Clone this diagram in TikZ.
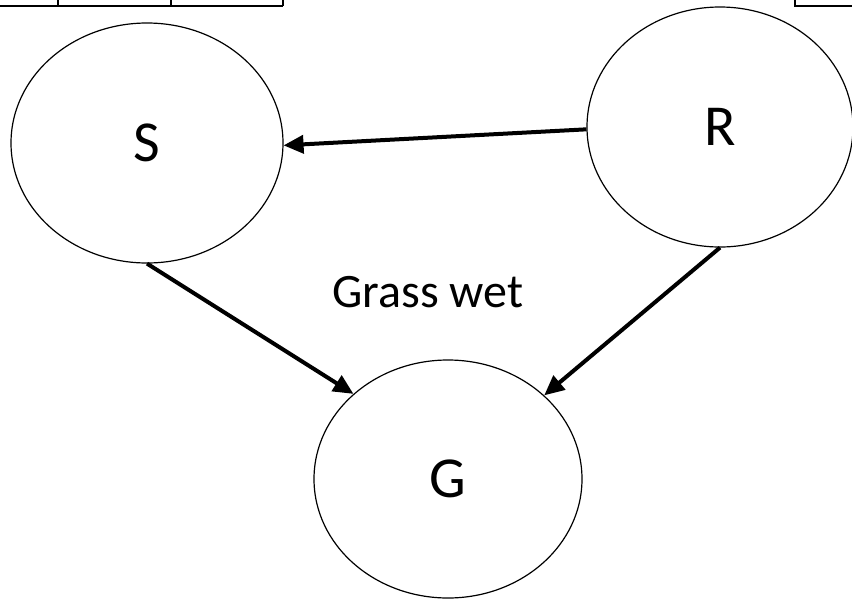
\documentclass[tikz,border=0pt]{standalone}
\usepackage{fontspec}
\setmainfont{Carlito}
\usetikzlibrary{shapes.geometric,arrows.meta}

\begin{document}
\begin{tikzpicture}[x=1pt, y=-1pt,
		var/.style={draw, ellipse, line width=1.2pt, inner sep=0pt, font=\fontsize{58}{60}\selectfont},
		edge/.style={line width=4pt, -{Triangle[length=20pt,width=18pt]}},
		cell/.style={line width=1.6pt}]
	\useasboundingbox (0,0) rectangle (852,600);
	\draw[cell] (0,6) -- (283,6);
	\foreach \i in {58,171,283} {
		\draw[cell] (\i,0) -- (\i,6);
	}
	\draw[cell] (852,6) -- (795,6) -- (795,0);
	\node[var, minimum width=272pt, minimum height=240pt] (S) at (147,143) {S};
	\node[var, minimum width=266pt, minimum height=240pt] (R) at (720,127) {R};
	\node[var, minimum width=268pt, minimum height=238pt] (G) at (448,479) {G};
	\node[font=\fontsize{48}{50}\selectfont] (wet) at (428,292) {Grass wet};
	\draw[edge] (R.181) -- (S.359);
	\draw[edge] (S.south) -- (G.138);
	\draw[edge] (R.south) -- (G.41);
\end{tikzpicture}
\end{document}
